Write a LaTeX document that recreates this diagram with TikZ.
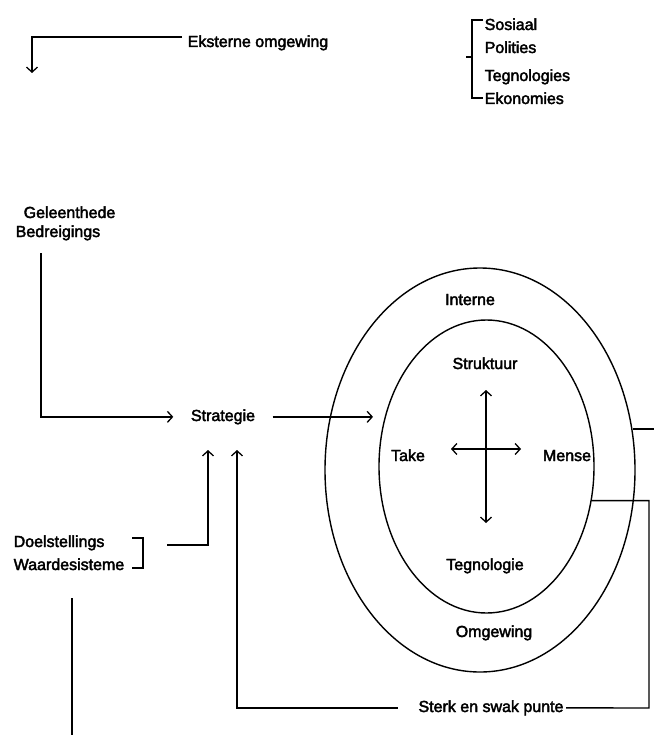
\documentclass[tikz,border=0pt]{standalone}
\usepackage{fontspec}
\setmainfont{Liberation Sans}
\newfontfamily\lbfont[FakeBold=2.5]{Liberation Sans}
\usetikzlibrary{arrows.meta,shapes.geometric}
\begin{document}
\begin{tikzpicture}[x=1pt,y=-1pt,line width=1.4pt,
    font=\lbfont\fontsize{16}{19}\selectfont,
    >={Straight Barb[length=5pt,width=11pt,line width=1.3pt]},
    lbl/.style={inner sep=0pt},
    ring/.style={draw,ellipse,inner sep=0pt}]
  \useasboundingbox (0,0) rectangle (654,735);
  % labels
  \draw
    (187,47) node[lbl,anchor=base west] (eks){Eksterne omgewing}
    (484,30) node[lbl,anchor=base west] (sos){Sosiaal}
    (484,53) node[lbl,anchor=base west] (pol){Polities}
    (484,81) node[lbl,anchor=base west] (tegs){Tegnologies}
    (484,104) node[lbl,anchor=base west] (eko){Ekonomies}
    (23,218) node[lbl,anchor=base west] (geleen){Geleenthede}
    (15,237) node[lbl,anchor=base west] (bedr){Bedreigings}
    (223,421) node[lbl,inner xsep=17pt,anchor=base] (strat){Strategie}
    (13,547) node[lbl,anchor=base west] (doel){Doelstellings}
    (13,570) node[lbl,anchor=base west] (waarde){Waardesisteme}
    (491,712) node[lbl,inner xsep=2pt,anchor=base] (sterk){Sterk en swak punte};
  % rings
  \node[ring,minimum width=310pt,minimum height=404pt] (outer) at (480,470) {};
  \node[ring,minimum width=215pt,minimum height=293pt] (inner) at (486.5,466.5) {};
  \draw
    (470,305) node[lbl,anchor=base] (interne){Interne}
    (485,369) node[lbl,anchor=base] (struk){Struktuur}
    (408,461) node[lbl,anchor=base] (take){Take}
    (567,461) node[lbl,anchor=base] (mense){Mense}
    (485,570) node[lbl,anchor=base] (tegn){Tegnologie}
    (494,637) node[lbl,anchor=base] (omg){Omgewing};
  % free ends
  \coordinate (eksl) at (182,37);
  \coordinate (eksp) at (32,73);
  \coordinate (gb) at (41,253);
  \coordinate (binne) at (373,417);
  \coordinate (doell) at (167,545);
  \coordinate (op1) at (208,450);
  \coordinate (op2) at (237,450);
  \coordinate (hoek) at (649,708);
  \coordinate (rand) at (654,0);
  \coordinate (los) at (72,598);
  \coordinate (onder) at (72,735);
  % brackets
  \draw (483,20) -- (472,20) -- (472,98) -- (483,98);
  \draw (472,57) -- (466,57);
  \draw (132,538) -- (143,538) -- (143,568) -- (132,568);
  \begin{scope}[->]
    \draw (eksl) -| (eksp);
    \draw (gb) |- (strat.west);
    \draw (strat.east) -- (strat.east -| binne);
    \draw (doell) -| (op1);
    \draw ([xshift=-18pt]sterk.west) -| (op2);
  \end{scope}
  \begin{scope}[<->]
    \draw (486,390) -- (486,523);
    \draw (451,449) -- (521,449);
  \end{scope}
  \draw (inner.-18) -| (hoek) -- (sterk.east);
  \draw (outer.15) -- (outer.15 -| rand);
  \draw (los) -- (onder);
\end{tikzpicture}
\end{document}
